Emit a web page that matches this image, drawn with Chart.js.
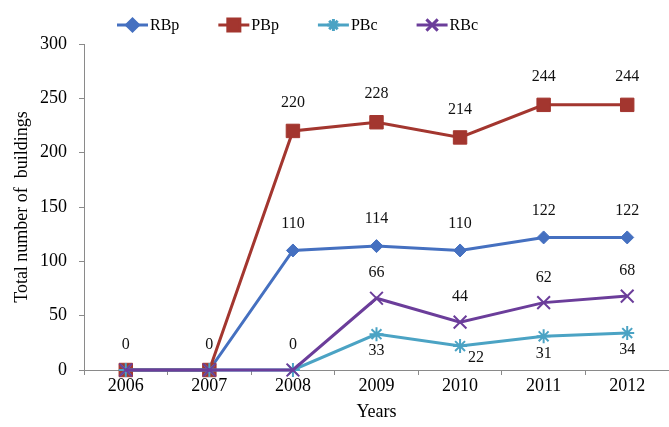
<!DOCTYPE html>
<html>
<head>
<meta charset="utf-8">
<script src="https://cdn.jsdelivr.net/npm/chart.js@4"></script>
<style>
  html, body { margin: 0; padding: 0; background: #ffffff; }
  canvas { display: block; }
</style>
</head>
<body>
<canvas id="chart" width="669" height="427"></canvas>
<script>
// Building counts per year
const years = ['2006', '2007', '2008', '2009', '2010', '2011', '2012'];
const rbpValues = [0, 0, 110, 114, 110, 122, 122];
const pbpValues = [0, 0, 220, 228, 214, 244, 244];
const pbcValues = [0, 0, 0, 33, 22, 31, 34];
const rbcValues = [0, 0, 0, 66, 44, 62, 68];
const yTickValues = [0, 50, 100, 150, 200, 250, 300];

const SERIF = '"Liberation Serif", "Times New Roman", serif';
Chart.defaults.font.family = SERIF;
Chart.defaults.color = '#000000';

const AXIS_GREY = '#8a8a8a';

// Value labels next to the points
const valueLabels = {
  id: 'valueLabels',
  afterDatasetsDraw(chart) {
    const ctx = chart.ctx;
    ctx.save();
    ctx.font = '16px ' + SERIF;
    ctx.fillStyle = '#111111';
    ctx.textAlign = 'center';
    ctx.textBaseline = 'middle';
    chart.data.datasets.forEach((ds, di) => {
      const meta = chart.getDatasetMeta(di);
      const cfg = ds.valueLabel;
      if (!cfg || meta.hidden) return;
      meta.data.forEach((pt, i) => {
        if (i < cfg.from) return;
        const nudge = (cfg.nudge && cfg.nudge[i]) || { dx: 0, dy: 0 };
        ctx.fillText(String(ds.data[i]), pt.x + nudge.dx, pt.y + cfg.dy + nudge.dy);
      });
    });
    ctx.restore();
  }
};

// Legend row: line sample with its marker, followed by the series name
const lineLegend = {
  id: 'lineLegend',
  afterDraw(chart) {
    const ctx = chart.ctx;
    const opts = chart.options.plugins.lineLegend;
    ctx.save();
    ctx.font = '16px ' + SERIF;
    ctx.textBaseline = 'middle';
    ctx.textAlign = 'left';
    let x = opts.x;
    const y = opts.y;
    chart.data.datasets.forEach((ds) => {
      ctx.strokeStyle = ds.borderColor;
      ctx.lineWidth = 3;
      ctx.beginPath();
      ctx.moveTo(x, y);
      ctx.lineTo(x + opts.sample, y);
      ctx.stroke();
      ctx.fillStyle = ds.pointBackgroundColor;
      ctx.strokeStyle = ds.pointBorderColor;
      Chart.helpers.drawPoint(ctx, {
        pointStyle: ds.pointStyle,
        radius: ds.legendRadius,
        rotation: 0,
        borderWidth: ds.pointBorderWidth
      }, x + opts.sample / 2, y);
      ctx.fillStyle = '#000000';
      const tx = x + opts.sample + 2;
      ctx.fillText(ds.label, tx, y + 1);
      x = tx + ctx.measureText(ds.label).width + opts.gap;
    });
    ctx.restore();
  }
};

const series = [
  { label: 'RBp', data: rbpValues, color: '#4570c0', style: 'rectRot', radius: 6.5, legendRadius: 6, bw: 1, order: 3, labelDy: -27, from: 2 },
  { label: 'PBp', data: pbpValues, color: '#a3362f', style: 'rect', radius: 9.5, legendRadius: 8.5, bw: 1, order: 2, labelDy: -28, from: 2 },
  { label: 'PBc', data: pbcValues, color: '#4ba3c4', style: 'star', radius: 7, legendRadius: 6, bw: 2, order: 1, labelDy: 17, from: 3, nudge: { 4: { dx: 16, dy: -5 } } },
  { label: 'RBc', data: rbcValues, color: '#6b3d9a', style: 'crossRot', radius: 9, legendRadius: 8, bw: 2, order: 0, labelDy: -25, from: 0 }
];

new Chart(document.getElementById('chart'), {
  type: 'line',
  data: {
    labels: years,
    datasets: series.map(s => ({
      label: s.label,
      data: s.data,
      borderColor: s.color,
      backgroundColor: s.color,
      borderWidth: 3,
      tension: 0,
      clip: false,
      pointStyle: s.style,
      pointRadius: s.radius,
      pointHoverRadius: s.radius,
      pointBackgroundColor: s.color,
      pointBorderColor: s.color,
      pointBorderWidth: s.bw,
      legendRadius: s.legendRadius,
      order: s.order,
      valueLabel: { dy: s.labelDy, from: s.from, nudge: s.nudge }
    }))
  },
  options: {
    responsive: false,
    animation: false,
    events: [],
    layout: { autoPadding: false, padding: { top: 44, right: 0, left: 0, bottom: 0 } },
    plugins: {
      legend: { display: false },
      tooltip: { enabled: false },
      lineLegend: { x: 117, y: 25, sample: 31, gap: 39 }
    },
    scales: {
      x: {
        type: 'category',
        offset: true,
        afterFit(scale) { scale.height = 57; },
        grid: {
          offset: true,
          drawOnChartArea: false,
          drawTicks: true,
          tickLength: 5,
          color: AXIS_GREY
        },
        border: { display: true, color: AXIS_GREY, width: 1 },
        ticks: { font: { size: 18 }, color: '#000000', padding: 0, maxRotation: 0 },
        title: { display: true, text: 'Years', font: { size: 18 }, color: '#000000', padding: { top: 0, bottom: 4 } }
      },
      y: {
        min: 0,
        max: 300,
        afterFit(scale) { scale.width = 84; },
        afterBuildTicks(scale) { scale.ticks = yTickValues.map(v => ({ value: v })); },
        grid: {
          drawOnChartArea: false,
          drawTicks: true,
          tickLength: 5,
          color: AXIS_GREY
        },
        border: { display: true, color: AXIS_GREY, width: 1 },
        ticks: { font: { size: 18 }, color: '#000000', padding: 12 },
        title: { display: true, text: 'Total number of  buildings', font: { size: 18 }, color: '#000000', padding: { top: 11, bottom: 0 } }
      }
    }
  },
  plugins: [valueLabels, lineLegend]
});
</script>
</body>
</html>
